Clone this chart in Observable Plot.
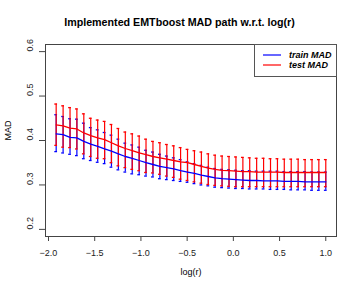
<!DOCTYPE html>
<html>
<head>
<meta charset="utf-8">
<script src="https://cdn.jsdelivr.net/npm/d3@7"></script>
<script src="https://cdn.jsdelivr.net/npm/@observablehq/plot@0.6"></script>
<style>
  html, body { margin: 0; padding: 0; background: #fff; }
  #wrap { position: relative; width: 359px; height: 293px; font-family: "Liberation Sans", Arial, Helvetica, sans-serif; }
  #title { height: 34px; box-sizing: border-box; padding-top: 16px; font-size: 10.7px; line-height: 12px; font-weight: bold; text-align: center; color: #000; }
  #legend { position: absolute; left: 254px; top: 44px; width: 83px; height: 33px; box-sizing: border-box; border: 1px solid #555; background: #fff; }
  #legend svg { position: absolute; left: 0; top: 0; }
</style>
</head>
<body>
<div id="wrap">
  <div id="title">Implemented EMTboost MAD path w.r.t. log(r)</div>
  <div id="chart"></div>
  <div id="legend"></div>
</div>
<script>
const logR = [-1.917,-1.842,-1.767,-1.693,-1.618,-1.543,-1.468,-1.393,-1.319,-1.244,-1.169,-1.094,-1.019,-0.945,-0.870,-0.795,-0.720,-0.645,-0.571,-0.496,-0.421,-0.346,-0.271,-0.197,-0.122,-0.047,0.028,0.103,0.177,0.252,0.327,0.402,0.477,0.551,0.626,0.701,0.776,0.851,0.925,1.000];

const trainMean = [0.415,0.413,0.407,0.406,0.398,0.392,0.387,0.381,0.376,0.370,0.364,0.360,0.355,0.350,0.346,0.342,0.339,0.336,0.332,0.329,0.326,0.322,0.319,0.316,0.314,0.313,0.312,0.311,0.310,0.310,0.309,0.309,0.309,0.308,0.308,0.308,0.307,0.307,0.307,0.307];
const trainHigh = [0.458,0.454,0.449,0.448,0.439,0.429,0.424,0.418,0.412,0.403,0.394,0.390,0.385,0.378,0.374,0.369,0.365,0.361,0.357,0.352,0.348,0.344,0.340,0.337,0.335,0.334,0.333,0.332,0.332,0.331,0.331,0.331,0.331,0.330,0.330,0.330,0.330,0.329,0.329,0.329];
const trainLow  = [0.375,0.372,0.369,0.366,0.359,0.355,0.351,0.348,0.340,0.334,0.329,0.325,0.323,0.320,0.318,0.314,0.312,0.310,0.308,0.306,0.303,0.300,0.298,0.295,0.294,0.293,0.292,0.292,0.291,0.291,0.291,0.290,0.290,0.290,0.289,0.289,0.289,0.288,0.288,0.288];

const testMean = [0.435,0.433,0.428,0.426,0.417,0.411,0.406,0.402,0.395,0.388,0.382,0.377,0.372,0.368,0.364,0.361,0.358,0.355,0.352,0.350,0.346,0.342,0.338,0.335,0.333,0.332,0.331,0.330,0.330,0.329,0.329,0.329,0.329,0.328,0.328,0.328,0.328,0.328,0.328,0.328];
const testHigh = [0.482,0.478,0.474,0.471,0.460,0.450,0.446,0.443,0.436,0.427,0.419,0.415,0.410,0.403,0.398,0.395,0.391,0.388,0.384,0.380,0.377,0.374,0.370,0.367,0.365,0.364,0.363,0.362,0.361,0.360,0.360,0.359,0.359,0.358,0.358,0.358,0.357,0.357,0.357,0.357];
const testLow  = [0.389,0.385,0.384,0.381,0.370,0.364,0.360,0.359,0.350,0.343,0.339,0.335,0.332,0.328,0.327,0.324,0.320,0.317,0.313,0.310,0.307,0.304,0.301,0.299,0.298,0.297,0.296,0.296,0.296,0.296,0.296,0.296,0.296,0.296,0.296,0.296,0.296,0.296,0.296,0.296];

const xTicks = [-2.0,-1.5,-1.0,-0.5,0.0,0.5,1.0];
const yTicks = [0.2,0.3,0.4,0.5,0.6];
const seriesNames = ["train MAD","test MAD"];
const seriesColors = ["#0000ff","#ff0000"];

const train = logR.map((x,i) => ({x, m: trainMean[i], lo: trainLow[i], hi: trainHigh[i]}));
const test = logR.map((x,i) => ({x, m: testMean[i], lo: testLow[i], hi: testHigh[i]}));

const cap = 0.015;
function errorMarks(data, color) {
  return [
    Plot.ruleX(data, {x: "x", y1: "lo", y2: "hi", stroke: color, strokeWidth: 1.2}),
    Plot.ruleY(data, {y: "hi", x1: d => d.x - cap, x2: d => d.x + cap, stroke: color, strokeWidth: 1.3}),
    Plot.ruleY(data, {y: "lo", x1: d => d.x - cap, x2: d => d.x + cap, stroke: color, strokeWidth: 1.3})
  ];
}

const chart = Plot.plot({
  width: 359,
  height: 259,
  marginTop: 10,
  marginBottom: 57,
  marginLeft: 45,
  marginRight: 23,
  style: {fontFamily: "'Liberation Sans', Arial, Helvetica, sans-serif", fontSize: "9px", color: "#222", background: "#fff"},
  x: {domain: [-2.0325, 1.116]},
  y: {domain: [0.184, 0.616]},
  marks: [
    Plot.frame({stroke: "#444"}),
    ...errorMarks(train, seriesColors[0]),
    ...errorMarks(test, seriesColors[1]),
    Plot.line(train, {x: "x", y: "m", stroke: seriesColors[0], strokeWidth: 1.3}),
    Plot.line(test, {x: "x", y: "m", stroke: seriesColors[1], strokeWidth: 1.3}),
    Plot.axisX(xTicks, {tickSize: 5, tickPadding: 8, stroke: "#444", fill: "#222", tickFormat: d => d3.format(".1f")(d), label: null}),
    Plot.axisY(yTicks, {tickSize: 6, stroke: "#444", text: null, label: null}),
    Plot.text(yTicks, {y: d => d, text: d => d3.format(".1f")(d), frameAnchor: "left", dx: -15, rotate: -90, fill: "#222", fontSize: 9}),
    Plot.text(["MAD"], {frameAnchor: "left", dx: -37, rotate: -90, fill: "#000", fontSize: 9}),
    Plot.text(["log(r)"], {frameAnchor: "bottom", dy: 38, fill: "#000", fontSize: 9})
  ]
});
document.getElementById("chart").appendChild(chart);

const ns = "http://www.w3.org/2000/svg";
const lsvg = document.createElementNS(ns, "svg");
lsvg.setAttribute("width", 81);
lsvg.setAttribute("height", 31);
seriesNames.forEach((name, i) => {
  const y = 10 + i * 10;
  const ln = document.createElementNS(ns, "line");
  ln.setAttribute("x1", 8); ln.setAttribute("x2", 26);
  ln.setAttribute("y1", y); ln.setAttribute("y2", y);
  ln.setAttribute("stroke", seriesColors[i]);
  ln.setAttribute("stroke-width", 1.2);
  lsvg.appendChild(ln);
  const tx = document.createElementNS(ns, "text");
  tx.setAttribute("x", 34); tx.setAttribute("y", y);
  tx.setAttribute("dy", "0.35em");
  tx.setAttribute("font-family", "'Liberation Sans', Arial, Helvetica, sans-serif");
  tx.setAttribute("font-size", 9);
  tx.setAttribute("font-weight", "bold");
  tx.setAttribute("font-style", "italic");
  tx.setAttribute("fill", "#000");
  tx.textContent = name;
  lsvg.appendChild(tx);
});
document.getElementById("legend").appendChild(lsvg);
</script>
</body>
</html>
